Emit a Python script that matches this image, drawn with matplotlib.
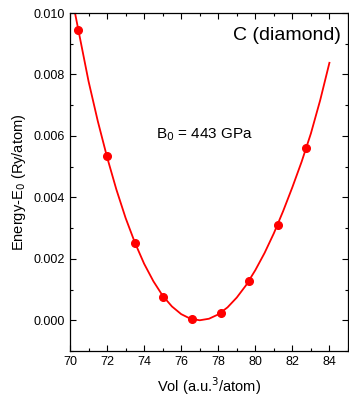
import numpy as np
import matplotlib
matplotlib.use("Agg")
import matplotlib.pyplot as plt
from matplotlib.ticker import MultipleLocator

plt.rcParams['font.family'] = ['Liberation Sans', 'DejaVu Sans']

# calculated points
vol = [70.45, 71.98, 73.51, 75.04, 76.61, 78.13, 79.68, 81.21, 82.74]
energy = [0.00945, 0.00535, 0.00250, 0.00076, 0.00003, 0.00024, 0.00128, 0.00310, 0.00561]

# fitted curve
fit_vol = [70.27, 70.5, 71.0, 71.5, 72.0, 72.5, 73.0, 73.5, 74.0, 74.5, 75.0, 75.5,
           76.0, 76.5, 77.0, 77.5, 78.0, 78.5, 79.0, 79.5, 80.0, 80.5, 81.0, 81.5,
           82.0, 82.5, 83.0, 83.5, 84.0]
fit_energy = [0.01000, 0.00930, 0.00778, 0.00648, 0.00531, 0.00426, 0.00333, 0.00253,
              0.00184, 0.00127, 0.00080, 0.00045, 0.00020, 0.00005, 0.00000, 0.00005,
              0.00019, 0.00042, 0.00074, 0.00114, 0.00163, 0.00219, 0.00283, 0.00355,
              0.00433, 0.00516, 0.00608, 0.00716, 0.00838]

fig = plt.figure(figsize=(3.49, 3.95), dpi=100)
ax = fig.add_axes([0.2006, 0.1114, 0.7964, 0.8556])

ax.plot(fit_vol, fit_energy, color='red', lw=1.3)
ax.plot(vol, energy, 'o', color='red', ms=5.5)

ax.set_xlim(70, 85)
ax.set_ylim(-0.001, 0.010)
ax.xaxis.set_major_locator(MultipleLocator(2))
ax.xaxis.set_minor_locator(MultipleLocator(1))
ax.yaxis.set_major_locator(MultipleLocator(0.002))
ax.yaxis.set_minor_locator(MultipleLocator(0.001))
ax.yaxis.set_major_formatter(plt.FormatStrFormatter('%.3f'))
ax.tick_params(which='both', direction='in', top=True, right=True, labelsize=9, width=0.8)
ax.tick_params(which='major', length=4)
ax.tick_params(which='minor', length=2.5)
for s in ax.spines.values():
    s.set_linewidth(0.9)

ax.set_xlabel('Vol (a.u.$^3$/atom)', fontsize=10.5, labelpad=5)
ax.set_ylabel('Energy-E$_0$ (Ry/atom)', fontsize=10.5, labelpad=4)

ax.text(84.63, 0.00928, 'C (diamond)', fontsize=14, ha='right', va='center')
ax.text(77.24, 0.00603, 'B$_0$ = 443 GPa', fontsize=11, ha='center', va='center')

fig.savefig('out.png', dpi=100)
